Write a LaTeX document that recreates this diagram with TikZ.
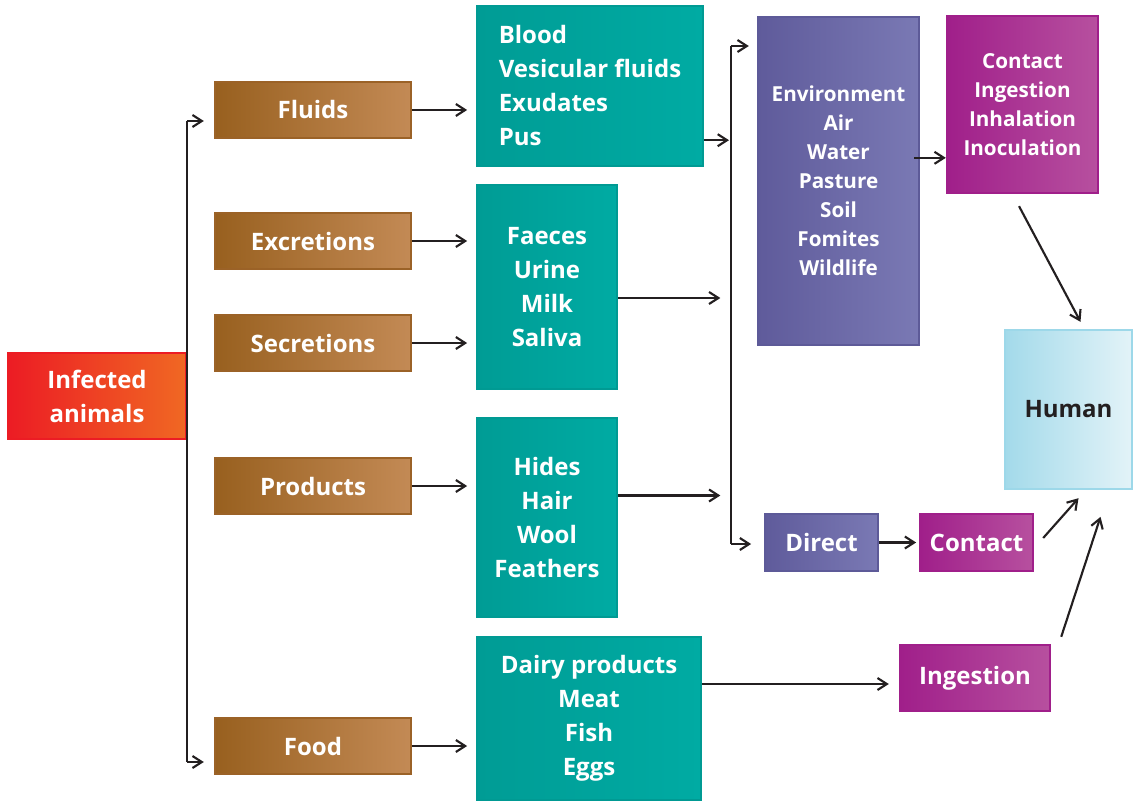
\documentclass[tikz,border=0pt]{standalone}
\usepackage{fontspec}
\setmainfont{Open Sans}
\usetikzlibrary{arrows.meta,calc}
\definecolor{brownL}{HTML}{98601F}
\definecolor{brownR}{HTML}{C38A55}
\definecolor{brownD}{HTML}{9B6227}
\definecolor{tealL}{HTML}{009C95}
\definecolor{tealR}{HTML}{00ABA3}
\definecolor{tealD}{HTML}{009A93}
\definecolor{redL}{HTML}{EC1C24}
\definecolor{redR}{HTML}{F06823}
\definecolor{pbL}{HTML}{5F5B9B}
\definecolor{pbR}{HTML}{7A79B4}
\definecolor{pbD}{HTML}{5D5A98}
\definecolor{mgL}{HTML}{A01F8A}
\definecolor{mgR}{HTML}{B7509F}
\definecolor{mgD}{HTML}{A01F8A}
\definecolor{huL}{HTML}{A3DAEA}
\definecolor{huR}{HTML}{E3F3F8}
\definecolor{huD}{HTML}{9DD8E9}
\definecolor{arrc}{HTML}{231F20}
\tikzset{
  box/.style={rectangle, inner sep=0pt, line width=1.8pt, text=white, align=center,
    font=\bfseries\fontsize{18}{25.5}\selectfont},
  place/.style n args={4}{at={({(#1+#3)/2},{(#2+#4)/2})},
    minimum width={(#3-#1)*0.75pt}, minimum height={(#4-#2)*0.75pt}},
  brownbox/.style={box, draw=brownD, left color=brownL, right color=brownR},
  tealbox/.style={box, draw=tealD, left color=tealL, right color=tealR},
  redbox/.style={box, draw=redL, left color=redL, right color=redR},
  pbbox/.style={box, draw=pbD, left color=pbL, right color=pbR},
  mgbox/.style={box, draw=mgD, left color=mgL, right color=mgR},
  hubox/.style={box, draw=huD, left color=huL, right color=huR, text=arrc},
  small/.style={font=\bfseries\fontsize{15.5}{21.75}\selectfont},
  arr/.style={draw=arrc, line width=1.6pt, -{Straight Barb[length=7pt,width=9pt]}},
  ln/.style={draw=arrc, line width=1.6pt},
}
\begin{document}
\begin{tikzpicture}[x=0.75pt,y=-0.75pt]
\useasboundingbox (0,0) rectangle (1134,802);
% left column
\node[redbox, place={8}{353}{186}{439}] (inf) {Infected\\animals};
\node[brownbox, place={215}{82}{411}{138}] (fluids) {Fluids};
\node[brownbox, place={215}{213}{411}{269}] (excr) {Excretions};
\node[brownbox, place={215}{315}{411}{371}] (secr) {Secretions};
\node[brownbox, place={215}{458}{411}{514}] (prod) {Products};
\node[brownbox, place={215}{718}{411}{774}] (food) {Food};
% teal column
\node[tealbox, place={477}{6}{703}{166}, align=left] (b1) {Blood\\Vesicular fluids\\Exudates\\Pus};
\node[tealbox, place={477}{185}{617}{389}] (b2) {Faeces\\Urine\\Milk\\Saliva};
\node[tealbox, place={477}{418}{617}{617}] (b3) {Hides\\Hair\\Wool\\Feathers};
\node[tealbox, place={477}{637}{701}{800}] (b4) {Dairy products\\Meat\\Fish\\Eggs};
% right part
\node[pbbox, small, place={758}{17}{919}{345}] (env) {Environment\\Air\\Water\\Pasture\\Soil\\Fomites\\Wildlife};
\node[mgbox, small, place={947}{16}{1098}{193}] (cont4) {Contact\\Ingestion\\Inhalation\\Inoculation};
\node[hubox, place={1005}{330}{1132}{489}] (human) {Human};
\node[pbbox, place={765}{514}{878}{571}] (direct) {Direct};
\node[mgbox, place={920}{514}{1033}{571}] (contact) {Contact};
\node[mgbox, place={900}{645}{1050}{711}] (ing) {Ingestion};
% trunk 1
\coordinate (t1) at (187,121);
\coordinate (t2) at (187,762);
\draw[ln] (t1) -- (t2);
\draw[arr, shorten >=7.5pt] (t1) -- (t1 -| fluids.west);
\draw[arr, shorten >=7.5pt] (t2) -- (t2 -| food.west);
% brown to teal
\draw[arr, shorten >=6.5pt] (fluids.east) -- (fluids.east -| b1.west);
\draw[arr, shorten >=6.5pt] (excr.east) -- (excr.east -| b2.west);
\draw[arr, shorten >=6.5pt] (secr.east) -- (secr.east -| b2.west);
\draw[arr, shorten >=6.5pt] (prod.east) -- (prod.east -| b3.west);
\draw[arr, shorten >=6.5pt] (food.east) -- (food.east -| b4.west);
% trunk 2
\coordinate (s1) at (731,46);
\coordinate (s2) at (731,544);
\draw[ln] (s1) -- (s2);
\draw[arr, shorten >=6pt] (s1) -- (s1 -| env.west);
\draw[arr, shorten >=9.5pt] (s2) -- (s2 -| direct.west);
\draw[arr, shorten >=1.5pt] ([yshift=20.25pt]b1.south east) -- ([yshift=20.25pt]b1.south east -| s1);
\draw[arr, shorten >=8pt] ([yshift=-8.25pt]b2.east) -- ([yshift=-8.25pt]b2.east -| s1);
\draw[arr, shorten >=8pt] ([yshift=16.5pt]b3.east) -- ([yshift=16.5pt]b3.east -| s1);
% to human
\draw[arr, shorten <=-4.5pt] ([yshift=-40pt]cont4.west -| env.east) -- ([yshift=-40pt]cont4.west);
\draw[arr, shorten >=2pt] (direct.east) -- (contact.west);
\draw[arr, shorten >=7.5pt] ([yshift=-4.5pt]ing.west -| b4.east) -- ([yshift=-4.5pt]ing.west);
\draw[arr] ([xshift=-2.6pt,yshift=-9pt]cont4.south) -- ([xshift=9pt,yshift=5.25pt]human.north);
\draw[arr] ([xshift=6.75pt,yshift=3.4pt]contact.east) -- ([xshift=7.5pt,yshift=-6pt]human.south);
\draw[arr] ([xshift=7.5pt,yshift=5.25pt]ing.north east) -- ([xshift=24pt,yshift=-20pt]human.south);
\end{tikzpicture}
\end{document}
